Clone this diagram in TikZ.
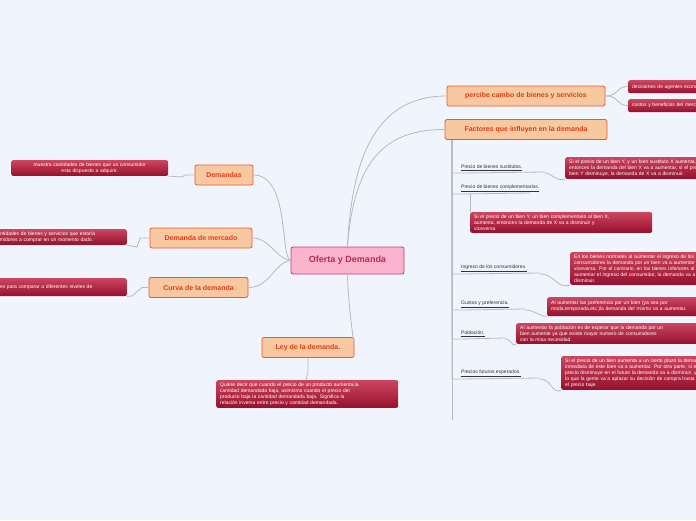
\documentclass[tikz,border=0pt]{standalone}
\usepackage{fontspec}
\setmainfont{Liberation Sans}
\usetikzlibrary{positioning,calc}
\definecolor{bgblue}{RGB}{240,244,252}
\definecolor{topicfill}{RGB}{248,200,160}
\definecolor{topicline}{RGB}{240,90,40}
\definecolor{topictext}{RGB}{230,60,20}
\definecolor{centerfill}{RGB}{250,180,205}
\definecolor{centerline}{RGB}{200,60,110}
\definecolor{centertext}{RGB}{190,40,90}
\definecolor{notetop}{RGB}{205,70,95}
\definecolor{notebot}{RGB}{150,15,45}
\definecolor{linkgray}{RGB}{185,185,195}
\tikzset{
  central/.style={draw=centerline, line width=0.8pt, fill=centerfill, rounded corners=2pt,
    minimum width=113pt, minimum height=27pt, text=centertext, font=\bfseries\fontsize{9}{10}\selectfont},
  topic/.style={draw=topicline, line width=0.8pt, fill=topicfill, rounded corners=2pt,
    minimum height=20pt, text=topictext, font=\bfseries\fontsize{7}{8}\selectfont, inner xsep=6pt},
  note/.style={top color=notetop, bottom color=notebot, rounded corners=2pt, text=white,
    font=\fontsize{5}{6}\selectfont, align=left, anchor=north west, inner xsep=4pt, inner ysep=2.5pt},
  sub/.style={font=\fontsize{5}{6}\selectfont, text=black!80, anchor=south west, inner xsep=0pt, inner ysep=1pt},
  link/.style={draw=linkgray, line width=0.8pt},
  underl/.style={draw=linkgray, line width=0.7pt}
}
\begin{document}
\begin{tikzpicture}[x=1pt,y=-1pt]
  \fill[bgblue] (0,0) rectangle (696,520);
  \useasboundingbox (0,0) rectangle (696,520);
  \clip (0,0) rectangle (696,520);

  % central topic
  \node[central] (ofd) at (347.5,260.5) {Oferta y Demanda};

  % main topics
  \node[topic, minimum width=158pt] (perc) at (526,96) {percibe cambo de bienes y servicios};
  \node[topic, minimum width=162pt] (fact) at (526,129.5) {Factores que influyen en la demanda};
  \node[topic, minimum width=58pt] (dem) at (224,175) {Demandas};
  \node[topic, minimum width=102pt] (dmer) at (201,238) {Demanda de mercado};
  \node[topic, minimum width=99pt] (curv) at (198.5,287.5) {Curva de la demanda};
  \node[topic, minimum width=92pt] (ley) at (308,347.5) {Ley de la demanda.};

  \draw[link] (ofd.north) .. controls (352,150) and (380,96) .. (perc.west);
  \draw[link] (ofd.north) .. controls (354,160) and (385,129.5) .. (fact.west);
  \draw[link] (ofd.west) .. controls (280,258) and (290,175) .. (dem.east);
  \draw[link] (ofd.west) .. controls (275,258) and (270,238) .. (dmer.east);
  \draw[link] (ofd.west) .. controls (275,262) and (270,287.5) .. (curv.east);
  \draw[link] (ofd.south) .. controls (348,300) and (352,330) .. (ley.east);

  % notes of the left topics
  \node[note, text width=149pt, align=center] (ndem) at (11,160) {muestra cantidades de bienes que un consumidor\\esta dispuesto a adquirir.};
  \node[note, text width=170pt, anchor=north east] (ndmer) at (127,229) {Es la suma de las cantidades de bienes y servicios que estaría\\dispuestos los consumidores a comprar en un momento dado.};
  \node[note, text width=170pt, minimum height=18pt, anchor=north east] (ncurv) at (127,278) {Sirve de las cantidades para comparar a diferentes niveles de};
  \node[note, text width=174pt] (nley) at (216,380) {Quiere decir que cuando el precio de un producto aumenta,la\\cantidad demandada baja, asimismo cuando el precio del\\producto baja la cantidad demandada baja. Significa la\\relación inversa entre precio y cantidad demandada.};

  \draw[link] (dem.west) -- (185,175) -- (182,177) -- (ndem.south east);
  \draw[link] (dmer.west) -- (140,238) -- (137,247) -- (ndmer.south east);
  \draw[link] (curv.west) -- (142,287.5) -- (132,296) -- (ncurv.south east);
  \draw[link] (ley.south) -- (308,372) -- (306,380);

  % notes of the right topics
  \node[note, text width=200pt, minimum height=13pt] (ndec) at (628,80) {decisiones de agentes económicos};
  \node[note, text width=200pt, minimum height=13pt] (ncos) at (628,99) {costos y beneficios del mercado};
  \draw[link] (perc.east) .. controls (620,96) and (615,86) .. (ndec.west);
  \draw[link] (perc.east) .. controls (620,96) and (615,105) .. (ncos.west);

  % factores: sub items
  \node[sub] (sust) at (461,172) {\underline{Precio de bienes sustitutos.}};
  \node[sub] (comp) at (461,193) {\underline{Precio de bienes complementarios.}};
  \node[sub] (ingr) at (461,273) {\underline{Ingreso de los consumidores.}};
  \node[sub] (gust) at (461,309) {\underline{Gustos y preferencia.}};
  \node[sub] (pobl) at (461,338) {\underline{Población.}};
  \node[sub] (futu) at (461,378) {\underline{Precios futuros esperados.}};

  \foreach \s/\e in {sust/545,comp/530,ingr/540,gust/525,pobl/505,futu/540}
    \draw[link] (452,140) |- ($(\s.south west)+(0,1)$) -- (\e,0|-\s.south);
  \draw[link] (452,140) -- (452,420);

  \node[note, text width=200pt] (nsust) at (565,157) {Si el precio de un bien Y, y un bien sustituto X aumenta,\\entonces la demanda del bien X va a aumentar, si el precio del\\bien Y disminuye, la demanda de X va a disminuir.};
  \node[note, text width=174pt] (ncomp) at (470,212) {Si el precio de un bien Y, un bien complementario al bien X,\\aumenta, entonces la demanda de X va a disminuir y\\viceversa};
  \node[note, text width=200pt] (ningr) at (570,252) {En los bienes normales al aumentar el ingreso de los\\consumidores la demanda por un bien va a aumentar y\\viceversa. Por el contrario, en los bienes inferiores al\\aumentar el ingreso del consumidor, la demanda va a\\disminuir.};
  \node[note, text width=200pt, minimum height=19pt] (ngust) at (547,297) {Al aumentar las preferencia por un bien (ya sea por\\moda,temporada,etc.)la demanda del mismo va a aumentar.};
  \node[note, text width=200pt] (npobl) at (516,323) {Al aumentar la población es de esperar que la demanda por un\\bien aumente ya que existe mayor numero de consumidores\\con la misa necesidad.};
  \node[note, text width=200pt] (nfutu) at (561,356) {Si el precio de un bien aumenta a un cierto plazo la demanda\\inmediata de este bien va a aumentar. Por otra parte, si el\\precio disminuye en el futuro la demanda va a disminuir, ya\\lo que la gente va a aplazar su decisión de compra hasta que\\el precio baje.};

  \draw[link] (545,173) .. controls (552,173) and (556,182) .. (nsust.south west);
  \draw[link] (470,194) -- (470,212);
  \draw[link] (540,274) .. controls (555,274) and (556,289) .. (ningr.south west);
  \draw[link] (525,310) .. controls (535,310) and (538,316) .. (ngust.south west);
  \draw[link] (505,339) .. controls (512,339) and (512,348) .. (npobl.south west);
  \draw[link] (540,379) .. controls (552,379) and (552,395) .. (nfutu.south west);
\end{tikzpicture}
\end{document}
